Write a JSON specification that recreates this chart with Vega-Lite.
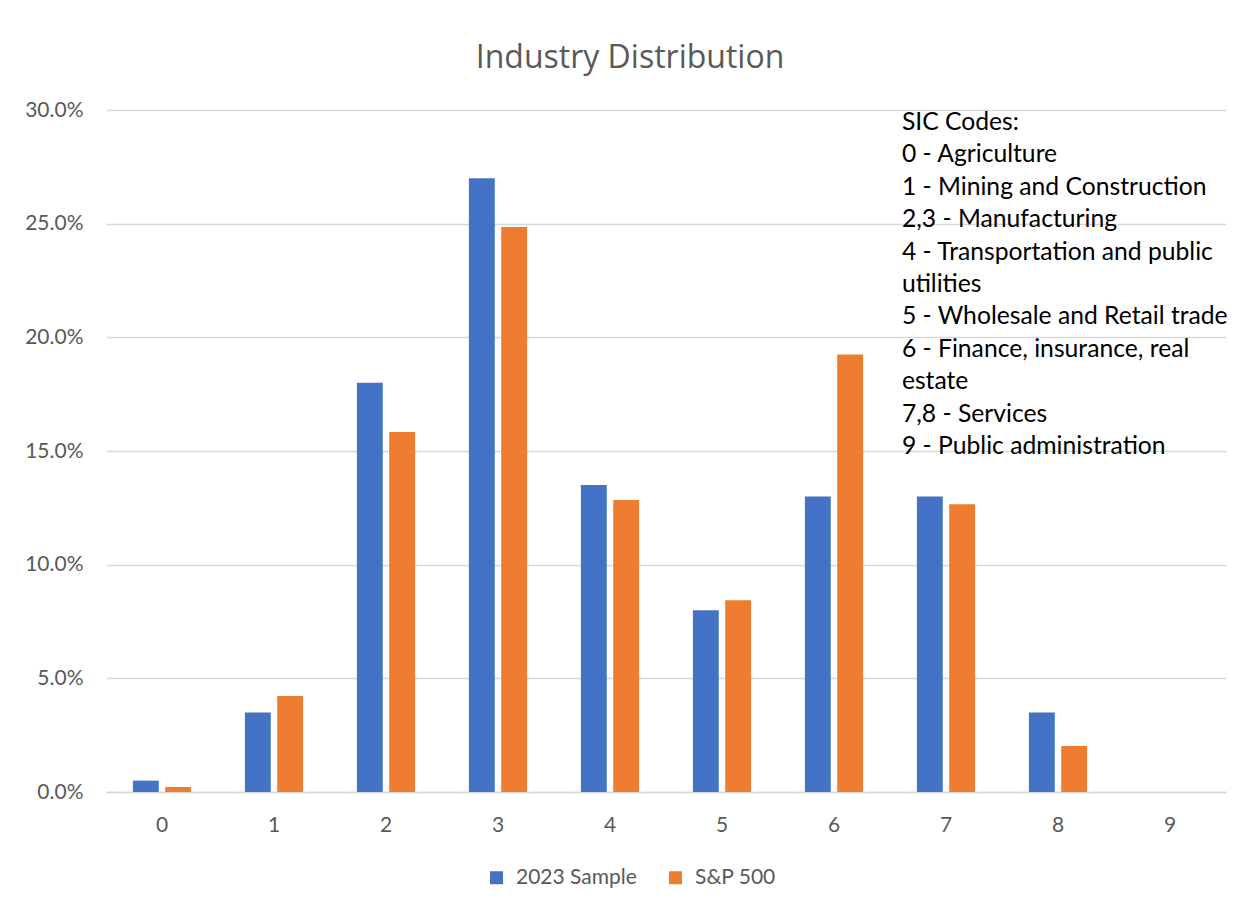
{
  "$schema": "https://vega.github.io/schema/vega-lite/v6.json",
  "width": 1120,
  "height": 682,
  "autosize": {"type": "none"},
  "padding": {"left": 106, "top": 110, "right": 27, "bottom": 117},
  "background": "white",
  "title": {
    "text": "Industry Distribution",
    "anchor": "middle",
    "frame": "group",
    "dx": -36,
    "offset": 24,
    "font": "Open Sans",
    "fontSize": 32,
    "fontWeight": "normal",
    "color": "#595959"
  },
  "config": {
    "view": {"stroke": null},
    "font": "Lato"
  },
  "layer": [
    {
      "data": {
        "values": [
          {"code": "0", "series": "2023 Sample", "pct": 0.005},
          {"code": "0", "series": "S&P 500", "pct": 0.0022},
          {"code": "1", "series": "2023 Sample", "pct": 0.035},
          {"code": "1", "series": "S&P 500", "pct": 0.0422},
          {"code": "2", "series": "2023 Sample", "pct": 0.18},
          {"code": "2", "series": "S&P 500", "pct": 0.1584},
          {"code": "3", "series": "2023 Sample", "pct": 0.27},
          {"code": "3", "series": "S&P 500", "pct": 0.2485},
          {"code": "4", "series": "2023 Sample", "pct": 0.135},
          {"code": "4", "series": "S&P 500", "pct": 0.1285},
          {"code": "5", "series": "2023 Sample", "pct": 0.08},
          {"code": "5", "series": "S&P 500", "pct": 0.0843},
          {"code": "6", "series": "2023 Sample", "pct": 0.13},
          {"code": "6", "series": "S&P 500", "pct": 0.1925},
          {"code": "7", "series": "2023 Sample", "pct": 0.13},
          {"code": "7", "series": "S&P 500", "pct": 0.1266},
          {"code": "8", "series": "2023 Sample", "pct": 0.035},
          {"code": "8", "series": "S&P 500", "pct": 0.0202},
          {"code": "9", "series": "2023 Sample", "pct": 0},
          {"code": "9", "series": "S&P 500", "pct": 0}
        ]
      },
      "mark": {"type": "bar"},
      "encoding": {
        "x": {
          "field": "code",
          "type": "nominal",
          "sort": null,
          "scale": {"paddingInner": 0.48, "paddingOuter": 0.24},
          "axis": {
            "title": null,
            "labelAngle": 0,
            "labelFontSize": 21,
            "labelColor": "#595959",
            "labelPadding": 22,
            "ticks": false,
            "domainColor": "#d9d9d9",
            "domainWidth": 1.5
          }
        },
        "xOffset": {
          "field": "series",
          "type": "nominal",
          "scale": {"paddingInner": 0.2, "paddingOuter": 0}
        },
        "y": {
          "field": "pct",
          "type": "quantitative",
          "scale": {"domain": [0, 0.3], "nice": false},
          "axis": {
            "title": null,
            "format": ".1%",
            "values": [0, 0.05, 0.1, 0.15, 0.2, 0.25, 0.3],
            "labelFontSize": 21,
            "labelColor": "#595959",
            "labelPadding": 23,
            "ticks": false,
            "domain": false,
            "gridColor": "#d9d9d9",
            "gridWidth": 1.5
          }
        },
        "color": {
          "field": "series",
          "type": "nominal",
          "scale": {"domain": ["2023 Sample", "S&P 500"], "range": ["#4472C4", "#ED7D31"]},
          "legend": {
            "title": null,
            "orient": "none",
            "direction": "horizontal",
            "legendX": 380,
            "legendY": 757,
            "symbolType": "square",
            "symbolSize": 169,
            "symbolStrokeWidth": 0,
            "labelFontSize": 21,
            "labelColor": "#595959",
            "labelOffset": 9,
            "columnPadding": 28
          }
        }
      }
    },
    {
      "data": {
        "values": [
          {
            "code": "7",
            "pct": 0.3,
            "lines": [
              "SIC Codes:",
              "0 - Agriculture",
              "1 - Mining and Construction",
              "2,3 - Manufacturing",
              "4 - Transportation and public",
              "utilities",
              "5 - Wholesale and Retail trade",
              "6 - Finance, insurance, real",
              "estate",
              "7,8 - Services",
              "9 - Public administration"
            ]
          }
        ]
      },
      "mark": {
        "type": "text",
        "align": "left",
        "baseline": "top",
        "dx": -15,
        "dy": 0,
        "fontSize": 24.7,
        "lineHeight": 32.4,
        "color": "#000000",
        "font": "Lato"
      },
      "encoding": {
        "x": {"field": "code", "type": "nominal", "bandPosition": 0},
        "y": {"field": "pct", "type": "quantitative"},
        "text": {"field": "lines"}
      }
    }
  ]
}
